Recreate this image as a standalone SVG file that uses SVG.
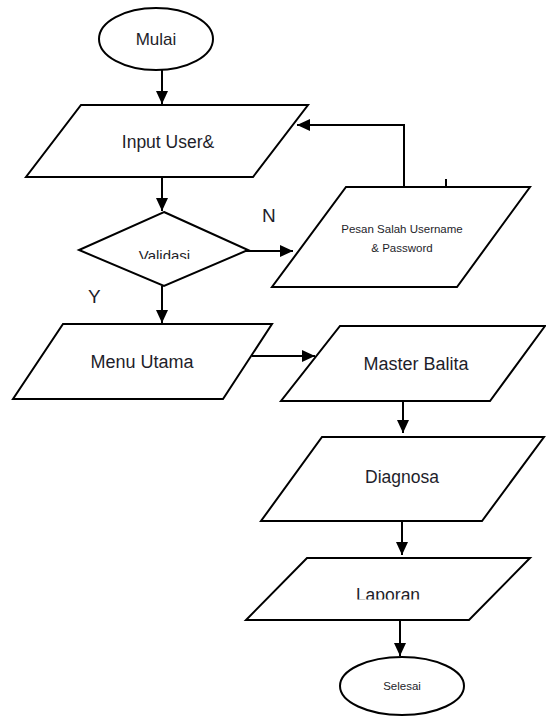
<svg xmlns="http://www.w3.org/2000/svg" width="546" height="717" viewBox="0 0 546 717">
<style>
.shape{fill:#fff;stroke:#000;stroke-width:2;stroke-linejoin:miter}
.conn{fill:none;stroke:#000;stroke-width:2}
.t{font-family:"Liberation Sans",Arial,sans-serif;fill:#1e1e2a;text-anchor:middle}
.lbl{font-family:"Liberation Sans",Arial,sans-serif;fill:#1e1e2a}
</style>
<defs>
<marker id="ah" markerUnits="userSpaceOnUse" markerWidth="14" markerHeight="14" viewBox="0 0 14 14" refX="13" refY="7" orient="auto">
<path d="M0,1 L13,7 L0,13 Z" fill="#000"/>
</marker>
<clipPath id="cv"><rect x="0" y="0" width="546" height="259"/></clipPath>
<clipPath id="cl"><rect x="0" y="0" width="546" height="599.5"/></clipPath>
</defs>
<rect width="546" height="717" fill="#fff"/>
<g id="connectors">
<line class="conn" x1="162" y1="70" x2="162" y2="104" marker-end="url(#ah)"/>
<line class="conn" x1="162" y1="177" x2="162" y2="211" marker-end="url(#ah)"/>
<line class="conn" x1="246" y1="251" x2="293" y2="251" marker-end="url(#ah)"/>
<polyline class="conn" points="404,186 404,125 297,125" marker-end="url(#ah)"/>
<line class="conn" x1="446" y1="179" x2="446" y2="187"/>
<line class="conn" x1="162" y1="286" x2="162" y2="323" marker-end="url(#ah)"/>
<line class="conn" x1="252" y1="356" x2="315" y2="356" marker-end="url(#ah)"/>
<line class="conn" x1="403" y1="401" x2="403" y2="433" marker-end="url(#ah)"/>
<line class="conn" x1="402" y1="521" x2="402" y2="555" marker-end="url(#ah)"/>
<line class="conn" x1="400" y1="620" x2="400" y2="656" marker-end="url(#ah)"/>
</g>
<g id="mulai">
<ellipse class="shape" cx="156" cy="39" rx="57" ry="31"/>
<text class="t" x="156" y="45" font-size="17">Mulai</text>
</g>
<g id="input">
<polygon class="shape" points="81,105 308,105 253,177 26,177"/>
<text class="t" x="168" y="148" font-size="17.5">Input User&amp;</text>
</g>
<g id="validasi">
<polygon class="shape" points="164,212 248,250 164,286 79,250"/>
<text class="t" x="164.5" y="260.5" font-size="15" clip-path="url(#cv)">Validasi</text>
</g>
<g id="pesan">
<polygon class="shape" points="346,187 530,187 457,287 272,287"/>
<text class="t" x="402" y="233" font-size="11.5">Pesan Salah Username</text>
<text class="t" x="402" y="252" font-size="11.5">&amp; Password</text>
</g>
<g id="label-n"><text class="lbl" x="262" y="222" font-size="19">N</text></g>
<g id="label-y"><text class="lbl" x="88" y="303" font-size="19">Y</text></g>
<g id="menu">
<polygon class="shape" points="63,324 272,324 223,399 13,399"/>
<text class="t" x="142" y="368" font-size="18">Menu Utama</text>
</g>
<g id="master">
<polygon class="shape" points="340,326 545,326 490,401 281,401"/>
<text class="t" x="416" y="370" font-size="18">Master Balita</text>
</g>
<g id="diagnosa">
<polygon class="shape" points="322,437 544,437 482,521 261,521"/>
<text class="t" x="402" y="483" font-size="17.5">Diagnosa</text>
</g>
<g id="laporan">
<polygon class="shape" points="307,558 530,558 469,620 246,620"/>
<text class="t" x="388" y="601" font-size="17.5" clip-path="url(#cl)">Laporan</text>
</g>
<g id="selesai">
<ellipse class="shape" cx="402" cy="686" rx="62" ry="29"/>
<text class="t" x="402" y="690" font-size="11.5">Selesai</text>
</g>
</svg>
